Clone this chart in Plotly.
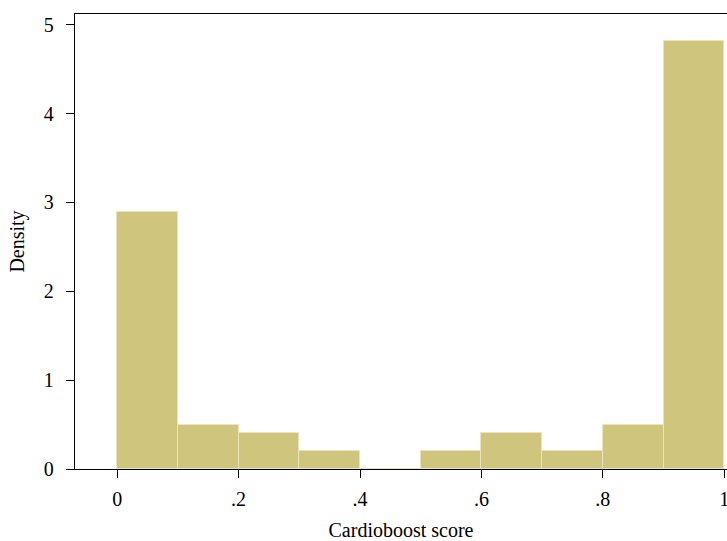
import plotly.graph_objects as go

# Histogram data (Cardioboost score, density per bin of width 0.1)
bin_left = [0.0, 0.1, 0.2, 0.3, 0.4, 0.5, 0.6, 0.7, 0.8, 0.9]
density = [2.89, 0.49, 0.4, 0.2, 0.0, 0.2, 0.4, 0.2, 0.49, 4.82]
bin_width = 0.1
x_tickvals = [0, 0.2, 0.4, 0.6, 0.8, 1.0]
x_ticktext = ["0", ".2", ".4", ".6", ".8", "1"]
y_tickvals = [0, 1, 2, 3, 4, 5]

centers = [b + bin_width / 2 for b in bin_left]

font = dict(family="Liberation Serif, Times New Roman, serif", size=20, color="#000000")

fig = go.Figure()
fig.add_trace(go.Bar(
    x=centers,
    y=density,
    width=[bin_width] * len(centers),
    marker=dict(color="#D0C57D", line=dict(color="#EAE3BE", width=1)),
    hoverinfo="x+y",
))

fig.update_layout(
    width=727,
    height=541,
    margin=dict(l=75, r=0, t=14, b=72, autoexpand=False),
    paper_bgcolor="white",
    plot_bgcolor="white",
    font=font,
    showlegend=False,
    bargap=0,
    xaxis=dict(
        range=[-0.0695, 1.0046],
        tickvals=x_tickvals,
        ticktext=x_ticktext,
        ticks="outside",
        ticklen=8,
        tickwidth=1.2,
        tickcolor="black",
        showline=True,
        linecolor="black",
        linewidth=1.3,
        mirror=True,
        showgrid=False,
        zeroline=False,
        automargin=False,
        ticklabeloverflow="allow",
        ticklabelstandoff=4,
        title=dict(text="Cardioboost score", font=font, standoff=19),
        tickfont=font,
    ),
    yaxis=dict(
        range=[0, 5.12],
        tickvals=y_tickvals,
        ticks="outside",
        ticklen=8,
        tickwidth=1.2,
        tickcolor="black",
        showline=True,
        linecolor="black",
        linewidth=1.3,
        mirror=False,
        showgrid=False,
        zeroline=False,
        automargin=False,
        ticklabelstandoff=8,
        title=dict(text="Density", font=font, standoff=13),
        tickfont=font,
    ),
)

fig.write_html(
    "out.html",
    config={"displayModeBar": False},
    post_script="document.body.style.margin='0';document.body.style.overflow='hidden';",
)
